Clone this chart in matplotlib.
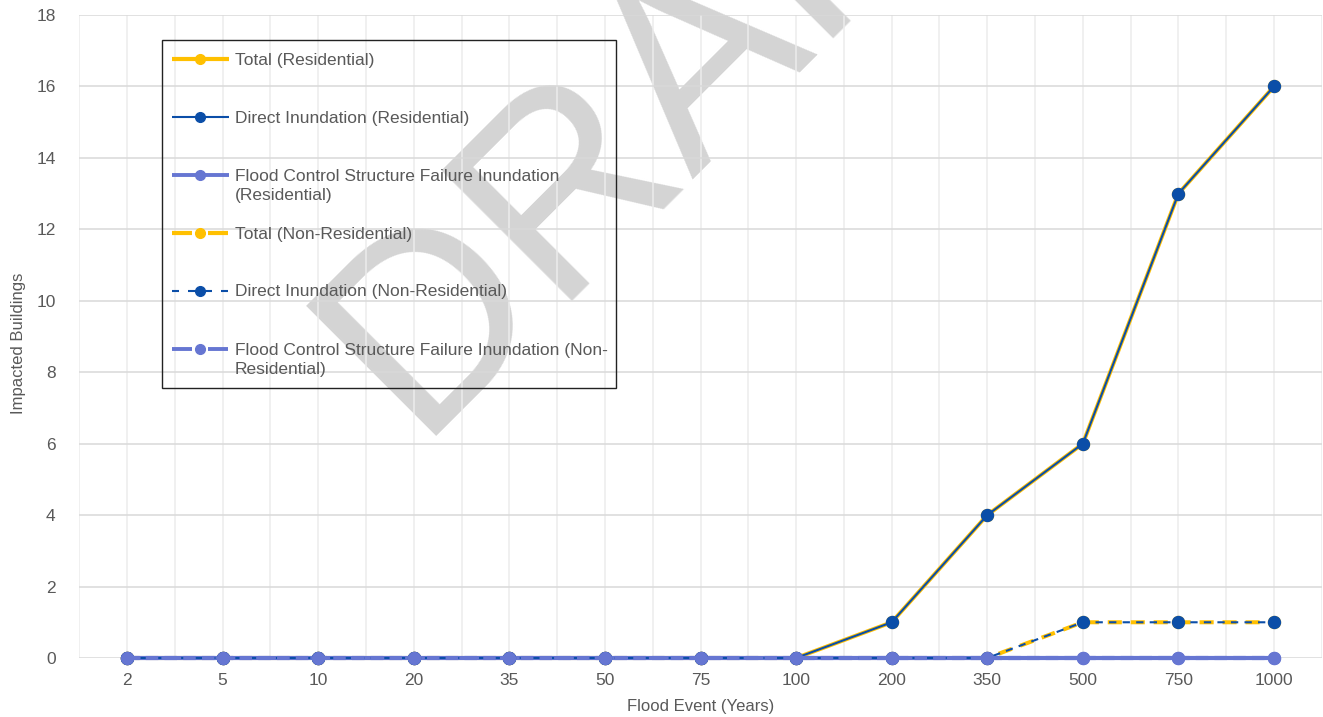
import numpy as np
import matplotlib
matplotlib.use('Agg')
import matplotlib.pyplot as plt
from matplotlib.lines import Line2D
from matplotlib.patches import Rectangle

# flood return periods and impacted building counts
events = ['2', '5', '10', '20', '35', '50', '75', '100', '200', '350', '500', '750', '1000']
total_res = [0, 0, 0, 0, 0, 0, 0, 0, 1, 4, 6, 13, 16]
direct_res = [0, 0, 0, 0, 0, 0, 0, 0, 1, 4, 6, 13, 16]
fcsf_res = [0, 0, 0, 0, 0, 0, 0, 0, 0, 0, 0, 0, 0]
total_nonres = [0, 0, 0, 0, 0, 0, 0, 0, 0, 0, 1, 1, 1]
direct_nonres = [0, 0, 0, 0, 0, 0, 0, 0, 0, 0, 1, 1, 1]
fcsf_nonres = [0, 0, 0, 0, 0, 0, 0, 0, 0, 0, 0, 0, 0]

GOLD = '#FFC000'
BLUE = '#0B4EA8'
PERI = '#6676D2'
TXT = '#595959'
W, H = 1323, 717

plt.rcParams['font.family'] = ['Liberation Sans', 'DejaVu Sans']

fig = plt.figure(figsize=(W / 100, H / 100), dpi=100)
ax = fig.add_axes([79.2 / W, 1 - 658 / H, 1242.6 / W, 643 / H])

def fpos(x, y):
    # pixel position (from top-left) to figure fraction
    return x / W, 1 - y / H

x = np.arange(len(events))

common = dict(marker='o', ms=8.6, clip_on=False)
ax.plot(x, total_res, color=GOLD, lw=2.9, mfc=GOLD, mec=GOLD, zorder=3, **common)
ax.plot(x, total_nonres, color=GOLD, lw=2.9, dashes=(3.5, 2.2), mfc=GOLD, mec=GOLD,
        zorder=4, **common)
ax.plot(x, direct_res, color=BLUE, lw=1.5, mfc=BLUE, mec=BLUE, zorder=5, **common)
ax.plot(x, fcsf_res, color=PERI, lw=3.0, mfc=PERI, mec=PERI, zorder=6, **common)
ax.plot(x, direct_nonres, color=BLUE, lw=1.5, dashes=(3.5, 3), mfc=BLUE, mec=BLUE,
        zorder=7, **common)
ax.plot(x, fcsf_nonres, color=PERI, lw=3.0, dashes=(3, 1.5), mfc=PERI, mec=PERI,
        zorder=8, **common)

ax.set_xlim(-0.5, len(events) - 0.5)
ax.set_ylim(0, 18)
ax.set_yticks(np.arange(0, 19, 2))
ax.set_xticks(x)
ax.set_xticklabels(events)
ax.set_xticks(np.arange(-0.5, len(events), 1.0), minor=True)
ax.set_axisbelow(True)
ax.grid(axis='y', color='#d9d9d9', lw=1.1)
ax.grid(axis='x', which='both', color='#ececec', lw=1.1)
for s in ax.spines.values():
    s.set_visible(False)
ax.tick_params(axis='both', which='both', length=0, labelsize=12.5, labelcolor=TXT)
ax.tick_params(axis='x', pad=11)
ax.tick_params(axis='y', pad=17)
ax.set_xlabel('Flood Event (Years)', fontsize=12, color=TXT, labelpad=8)
ax.set_ylabel('Impacted Buildings', fontsize=12, color=TXT, va='center')
ax.yaxis.set_label_coords((19 - 79.2) / 1242.6, 0.49)

# watermark
wx, wy = fpos(415, 437)
ax.text(wx, wy, 'DRAFT', transform=fig.transFigure, fontsize=192, color='#d4d4d4',
        rotation=45, rotation_mode='anchor', ha='left', va='baseline',
        zorder=0, clip_on=False)

# legend box
x0, y0 = fpos(162, 388)
x1, y1 = fpos(616, 40)
ax.add_artist(Rectangle((x0, y0), x1 - x0, y1 - y0, transform=fig.transFigure,
                        fill=False, ec='#222222', lw=1.0, clip_on=False, zorder=20))

entries = [
    ('Total (Residential)', GOLD, 3.0, None, 59, 59),
    ('Direct Inundation (Residential)', BLUE, 1.5, None, 117, 117),
    ('Flood Control Structure Failure Inundation\n(Residential)', PERI, 2.8, None, 175, 185),
    ('Total (Non-Residential)', GOLD, 3.0, 'gap', 233, 233),
    ('Direct Inundation (Non-Residential)', BLUE, 1.5, 'dash', 291, 291),
    ('Flood Control Structure Failure Inundation (Non-\nResidential)', PERI, 2.8, 'gap', 349, 359),
]
for label, col, lw, style, ry, ty in entries:
    if style is None:
        segs = [(172, 229)]
    elif style == 'gap':
        segs = [(172, 192), (208, 228)]
    else:
        segs = [(172, 179), (188, 212), (221, 228)]
    for a, b in segs:
        xa, yy = fpos(a, ry)
        xb, _ = fpos(b, ry)
        ax.add_artist(Line2D([xa, xb], [yy, yy], transform=fig.transFigure, color=col,
                             lw=lw, solid_capstyle='butt', clip_on=False, zorder=21))
    mx, my = fpos(200, ry)
    ax.add_artist(Line2D([mx], [my], transform=fig.transFigure, marker='o', ms=7,
                         mfc=col, mec=col, lw=0, clip_on=False, zorder=22))
    tx, tyy = fpos(235, ty + 1)
    ax.text(tx, tyy, label, transform=fig.transFigure, fontsize=12.5, color=TXT,
            ha='left', va='center', linespacing=1.3, zorder=22, clip_on=False)

fig.savefig('out.png', dpi=100)
